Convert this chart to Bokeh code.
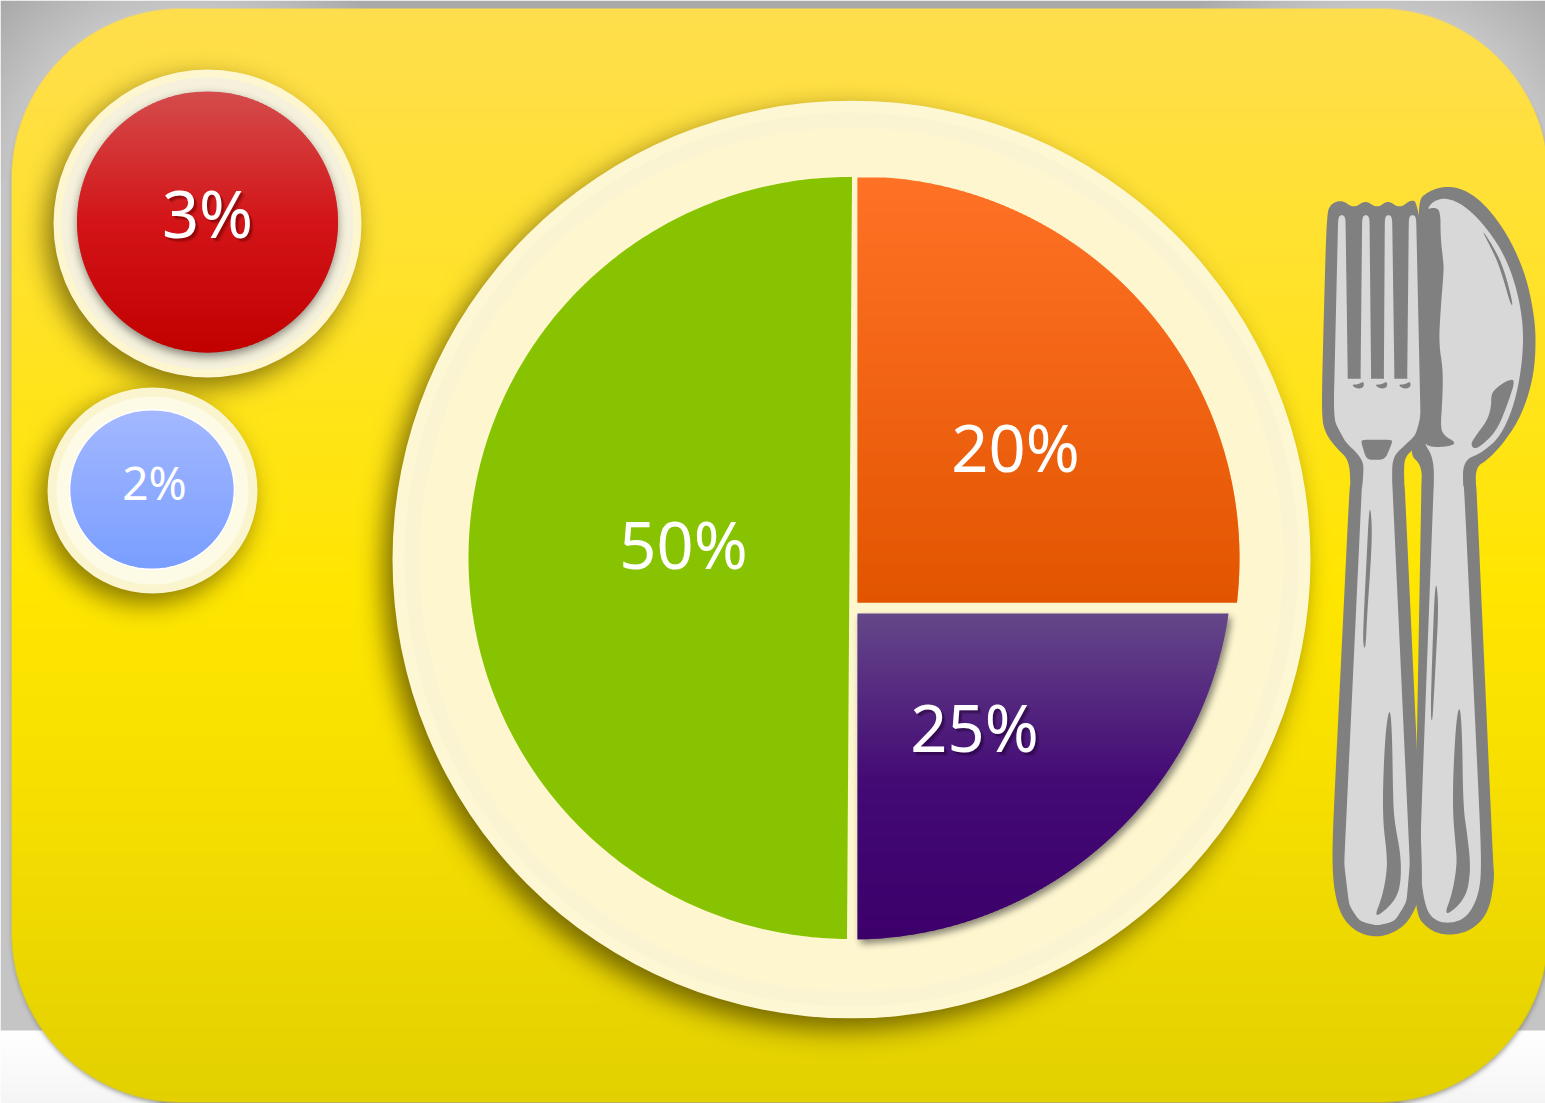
import numpy as np
from bokeh.embed import file_html
from bokeh.models import Range1d
from bokeh.plotting import figure
from bokeh.resources import INLINE
from bokeh.core.properties import value

W, H = 1545, 1103

# Portions shown on the plate and in the two side dishes
plate_names = ["Grains", "Protein", "Vegetables"]
plate_values = [50, 20, 25]
dish_values = [3, 2]

GREY_LINE = "#808080"
CUTLERY = "#d8d8d8"

yy, xx = np.mgrid[0:H, 0:W] + 0.5


def lerp_stops(y, stops):
    ys = [s[0] for s in stops]
    return np.stack([np.interp(y, ys, [s[1][i] for s in stops]) for i in range(3)], -1)


def box_blur(a, r, axis):
    if r < 1:
        return a
    pad = [(0, 0), (0, 0)]
    pad[axis] = (r + 1, r)
    c = np.cumsum(np.pad(a, pad, mode="edge"), axis=axis)
    n = a.shape[axis]
    hi = np.take(c, np.arange(2 * r + 1, n + 2 * r + 1), axis=axis)
    lo = np.take(c, np.arange(0, n), axis=axis)
    return (hi - lo) / (2 * r + 1)


def soft(mask, blur):
    out = mask.astype(float)
    r = max(int(round(blur / 2.0)), 0)
    for _ in range(3):
        out = box_blur(box_blur(out, r, 0), r, 1)
    return out


def cover(sd):
    return np.clip(0.5 - sd, 0, 1)


def ellipse_mask(cx, cy, rx, ry, dx=0, dy=0):
    return ((xx - cx - dx) / rx) ** 2 + ((yy - cy - dy) / ry) ** 2 <= 1


def over(rgb, alpha, color):
    return rgb * (1 - alpha[..., None]) + np.array(color, float) * alpha[..., None]


def rounded_sd(left, top, right, bottom, r):
    qx = np.abs(xx - (left + right) / 2) - (right - left) / 2 + r
    qy = np.abs(yy - (top + bottom) / 2) - (bottom - top) / 2 + r
    return np.hypot(np.maximum(qx, 0), np.maximum(qy, 0)) + np.minimum(np.maximum(qx, qy), 0) - r


def pack(rgb, alpha):
    out = np.zeros((H, W), dtype=np.uint32)
    view = out.view(np.uint8).reshape(H, W, 4)
    view[..., :3] = np.clip(rgb + 0.5, 0, 255).astype(np.uint8)
    view[..., 3] = np.clip(alpha * 255 + 0.5, 0, 255).astype(np.uint8)
    return out


# Backdrop: grey wall darkening into the top corners, pale band underneath
d_left = np.hypot(xx - 181, yy - 178)
d_right = np.hypot(xx - 1378, yy - 178)
dark = np.where(yy < 178, np.clip((np.where(xx < 772, d_left, d_right) - 172) / 80, 0, 1), 0)
wall = 197 - 28 * dark
rgb = np.stack([wall, wall, wall], -1)
band = yy >= 1030
floor = np.interp(yy, [1030, 1103], [255, 245])
rgb[band] = np.stack([floor, floor, floor], -1)[band]

# Tray with its own halo
tray_sd = rounded_sd(11, 8, 1548, 1102, 170)
halo_sd = rounded_sd(12, 14, 1548, 1104, 170)
rgb = over(rgb, soft(halo_sd <= 0, 5) * 0.55, (70, 70, 70))
tray = lerp_stops(yy, [(8, (255, 222, 77)), (300, (255, 226, 40)), (590, (255, 230, 0)),
                       (800, (246, 222, 0)), (1102, (226, 208, 0))])
a = cover(tray_sd)[..., None]
rgb = rgb * (1 - a) + tray * a

# Soft shadows cast on the tray by the plate and the dishes
for cx, cy, rx, ry, dx, dy, blur, k in [
    (851, 559, 459, 459, -9, 11, 24, 0.68),
    (207, 223, 154, 154, -7, 10, 24, 0.62),
    (152, 490, 105, 103, -7, 10, 24, 0.62),
]:
    rgb = over(rgb, soft(ellipse_mask(cx, cy, rx, ry, dx, dy), blur) * k, (60, 50, 0))

# Shadows that fall on top of the plate and on the red dish rim
sh_alpha = np.zeros((H, W))
purple_mask = (np.hypot(xx - 851 - 3, yy - 558 - 4) <= 381) & (xx >= 857 + 3) & (yy >= 613 + 4)
sh_alpha = np.maximum(sh_alpha, soft(purple_mask, 6) * 0.55)
sh_alpha = np.maximum(sh_alpha, soft(ellipse_mask(207, 221.5, 130, 130.5, 0, 4), 9) * 0.55)
sh_rgb = np.zeros((H, W, 3)) + 40

p = figure(width=W, height=H, x_range=Range1d(0, W), y_range=Range1d(H, 0),
           output_backend="svg", toolbar_location=None, min_border=0)
p.axis.visible = False
p.grid.visible = False
p.outline_line_color = None
p.background_fill_color = "#ffffff"
p.border_fill_color = "#ffffff"

p.image_rgba(image=[pack(rgb, np.ones((H, W)))], x=0, y=0, dw=W, dh=H)


def disc(cx, cy, rx, ry, color):
    p.ellipse(x=[cx], y=[cy], width=[2 * rx], height=[2 * ry], fill_color=color, line_color=None)


# Plate rim
disc(851, 559, 459, 459, "#fef7d3")
disc(851, 559, 447, 447, "#fbf4d3")
disc(851, 559, 432, 432, "#fdf6cf")

# Dish rims
disc(207, 223, 154, 154, "#fdf6cf")
disc(207, 223, 146, 146, "#f5f1dc")
disc(152, 490, 105, 103, "#fbf5cf")
disc(152, 490, 96, 94, "#fdfbe6")
disc(151.5, 489, 83, 80.5, "#ffffff")

p.image_rgba(image=[pack(sh_rgb, sh_alpha)], x=0, y=0, dw=W, dh=H)


def gradient_strips(top, bottom, left_fn, right_fn, stops, step=2.0):
    ys = np.arange(top, bottom, step)
    xs_list, ys_list, cols = [], [], []
    for y0 in ys:
        y1 = min(y0 + step + 1, bottom)
        c = lerp_stops(np.array([y0 + step / 2]), stops)[0]
        cols.append("#%02x%02x%02x" % tuple(int(round(v)) for v in c))
        samples = np.linspace(y0, y1, 7)
        left = [float(left_fn(s)) for s in samples]
        right = [float(right_fn(s)) for s in samples]
        xs_list.append(left + right[::-1])
        ys_list.append(list(samples) + list(samples[::-1]))
    p.patches(xs_list, ys_list, fill_color=cols, line_color=None)


def arc_x(cx, cy, r, y, sign):
    return cx + sign * np.sqrt(np.maximum(r * r - (y - cy) ** 2, 0))


# Green half: sweep comes straight from its share of the whole plate
green_sweep = plate_values[0] / 100 * 2 * np.pi
tilt = np.radians(0.38)
theta = np.linspace(np.pi / 2 - tilt, np.pi / 2 - tilt + green_sweep, 240)
p.patch(849 + 381 * np.cos(theta), 557.5 - 381 * np.sin(theta), fill_color="#87c300", line_color=None)

# The right half is one half disc cut by a horizontal band; its two pieces are
# illustrative and are not scaled to the percentages printed on them.
gradient_strips(177, 602, lambda y: 857, lambda y: arc_x(857, 558, 382, y, 1),
                [(177, (255, 114, 38)), (602, (226, 85, 0))])
gradient_strips(613, 939, lambda y: 857, lambda y: max(arc_x(851, 558, 381, y, 1), 857),
                [(613, (101, 71, 137)), (780, (68, 10, 117)), (939, (61, 0, 107))])

# Dishes
gradient_strips(91, 352, lambda y: arc_x(207, 221.5, 130.5, y, -1), lambda y: arc_x(207, 221.5, 130.5, y, 1),
                [(91, (212, 76, 76)), (220, (211, 21, 24)), (352, (193, 0, 0))])


def blue_x(y, sign):
    return 151.5 + sign * 81.5 * np.sqrt(max(1 - ((y - 489) / 79) ** 2, 0))


gradient_strips(410, 568, lambda y: blue_x(y, -1), lambda y: blue_x(y, 1),
                [(410, (163, 184, 255)), (568, (122, 158, 255))])


# Cutlery outlines: upper part and lower part each have their own drawing grid
def U(*pts):
    return [(1300 + x / 3, 170 + y / 3) for x, y in pts]


def L(*pts):
    return [(1310 + x / 3, 480 + y / 3) for x, y in pts]


def rounded(pts, cut=25.0, rounds=4):
    pts = [np.array(q, float) for q in pts]
    for _ in range(rounds):
        new = []
        n = len(pts)
        for i in range(n):
            a_, b_ = pts[i], pts[(i + 1) % n]
            seg = np.linalg.norm(b_ - a_)
            if seg < 1e-6:
                continue
            t = min(0.25, cut / seg)
            new.append(a_ + (b_ - a_) * t)
            new.append(b_ - (b_ - a_) * t)
        pts = new
    return [q[0] for q in pts], [q[1] for q in pts]


def shape(pts, color, cut=25.0):
    xs, ys = rounded(pts, cut)
    p.patch(xs, ys, fill_color=color, line_color=None)


spoon_outer = U((345, 95), (390, 58), (445, 46), (503, 62), (563, 112), (624, 197), (674, 308), (699, 420),
                (707, 510), (699, 622), (664, 733), (613, 813), (562, 868), (525, 890), (527, 960)) + \
    L((497, 0), (548, 1150), (552, 1195), (535, 1295), (484, 1350), (415, 1366), (356, 1350), (310, 1295),
      (333, 0)) + U((362, 960), (365, 885), (320, 845), (395, 500))
spoon_inner = U((378, 118), (400, 110), (420, 120), (420, 200), (428, 270), (430, 300), (420, 420), (415, 520),
                (428, 600), (425, 700), (420, 770), (430, 795), (465, 815), (455, 825), (420, 830), (385, 828),
                (370, 815), (400, 865), (400, 960)) + \
    L((370, 0), (327, 1150), (342, 1275), (368, 1318), (415, 1330), (469, 1312), (505, 1245), (514, 1150),
      (460, 0)) + U((488, 960), (487, 870), (543, 848), (605, 793), (651, 673), (672, 510), (656, 378), (615, 257),
                    (554, 166), (492, 105), (440, 82), (400, 90))
spoon_glint = U((543, 176), (570, 215), (600, 270), (620, 330), (638, 405), (630, 402), (610, 330), (590, 270),
                (565, 220))
spoon_hollow = U((645, 626), (625, 690), (590, 780), (540, 828), (520, 835), (510, 820), (530, 790), (560, 750),
                 (572, 710), (572, 670), (590, 650), (620, 630))
spoon_sliver = L((378, 303), (384, 380), (378, 500), (370, 650), (365, 730), (360, 700), (365, 530), (372, 340))
spoon_blob = L((448, 670), (455, 760), (458, 980), (470, 1060), (480, 1150), (475, 1210), (465, 1245), (440, 1280),
               (400, 1307), (425, 1240), (440, 1150), (435, 1090), (427, 1000), (428, 880), (437, 720))

fork_outer = U((78, 135), (90, 100), (125, 88), (160, 114), (195, 88), (230, 114), (262, 88), (297, 114), (330, 88),
               (352, 95), (395, 400), (395, 740), (375, 795), (340, 835), (318, 855), (310, 880), (312, 960)) + \
    L((282, 0), (335, 1150), (333, 1235), (308, 1300), (272, 1346), (200, 1374), (126, 1350), (80, 1285),
      (62, 1150), (118, 0)) + U((150, 960), (147, 870), (110, 835), (75, 790), (62, 735))
fork_body = U((104, 625), (352, 625), (360, 740), (345, 795), (285, 850), (275, 880), (275, 960)) + \
    L((245, 0), (298, 1150), (288, 1265), (253, 1322), (200, 1336), (147, 1322), (116, 1275), (101, 1150),
      (155, 0)) + U((185, 960), (190, 880), (172, 850), (135, 815), (103, 755), (100, 700))
fork_tines = [
    U((113, 140), (124, 132), (135, 140), (142, 640), (100, 700)),
    U((185, 140), (196, 132), (207, 140), (212, 640), (180, 640)),
    U((253, 140), (264, 132), (275, 140), (282, 640), (250, 640)),
    U((325, 140), (336, 132), (347, 140), (360, 740), (320, 640)),
]
fork_bridge = U((180, 808), (278, 808), (258, 858), (245, 868), (205, 868), (195, 858))
fork_notches = [U((155 + k, 642), (172 + k, 642), (190 + k, 632), (190 + k, 650), (175 + k, 655), (160 + k, 650))
                for k in (0, 70, 140)]
fork_sliver = L((180, 80), (185, 150), (180, 260), (170, 400), (165, 510), (157, 490), (160, 400), (170, 200),
                (175, 100))
fork_blob = L((238, 675), (245, 760), (248, 980), (255, 1040), (270, 1120), (272, 1190), (262, 1245), (230, 1285),
              (190, 1313), (215, 1250), (230, 1170), (228, 1110), (218, 1030), (217, 920), (225, 750))

shape(spoon_outer, GREY_LINE)
shape(spoon_inner, CUTLERY)
for part in (spoon_glint, spoon_hollow, spoon_sliver, spoon_blob):
    shape(part, GREY_LINE)

shape(fork_outer, GREY_LINE)
shape(fork_body, CUTLERY, 3)
for tine in fork_tines:
    shape(tine, CUTLERY, 3)
for part in fork_notches + [fork_sliver, fork_blob]:
    shape(part, GREY_LINE)
shape(fork_bridge, GREY_LINE, 2)


# Percentage labels
def label(x, y, txt, size, shadow=None):
    font = value("Noto Sans")
    if shadow:
        for off, alpha in ((4, 0.12), (3, 0.22), (2, 0.30)):
            p.text(x=[x + off], y=[y + off], text=[txt], text_font=font, text_font_size=size,
                   text_color=shadow, text_alpha=alpha, text_align="center", text_baseline="middle")
    p.text(x=[x], y=[y], text=[txt], text_font=font, text_font_size=size, text_color="#ffffff",
           text_align="center", text_baseline="middle")


label(683, 543, f"{plate_values[0]}%", "65px")
label(1015, 446, f"{plate_values[1]}%", "65px")
label(974, 726, f"{plate_values[2]}%", "65px", "#200030")
label(207, 212, f"{dish_values[0]}%", "65px", "#600000")
label(154, 481, f"{dish_values[1]}%", "46px")

open("out.html", "w").write(file_html(p, INLINE))
